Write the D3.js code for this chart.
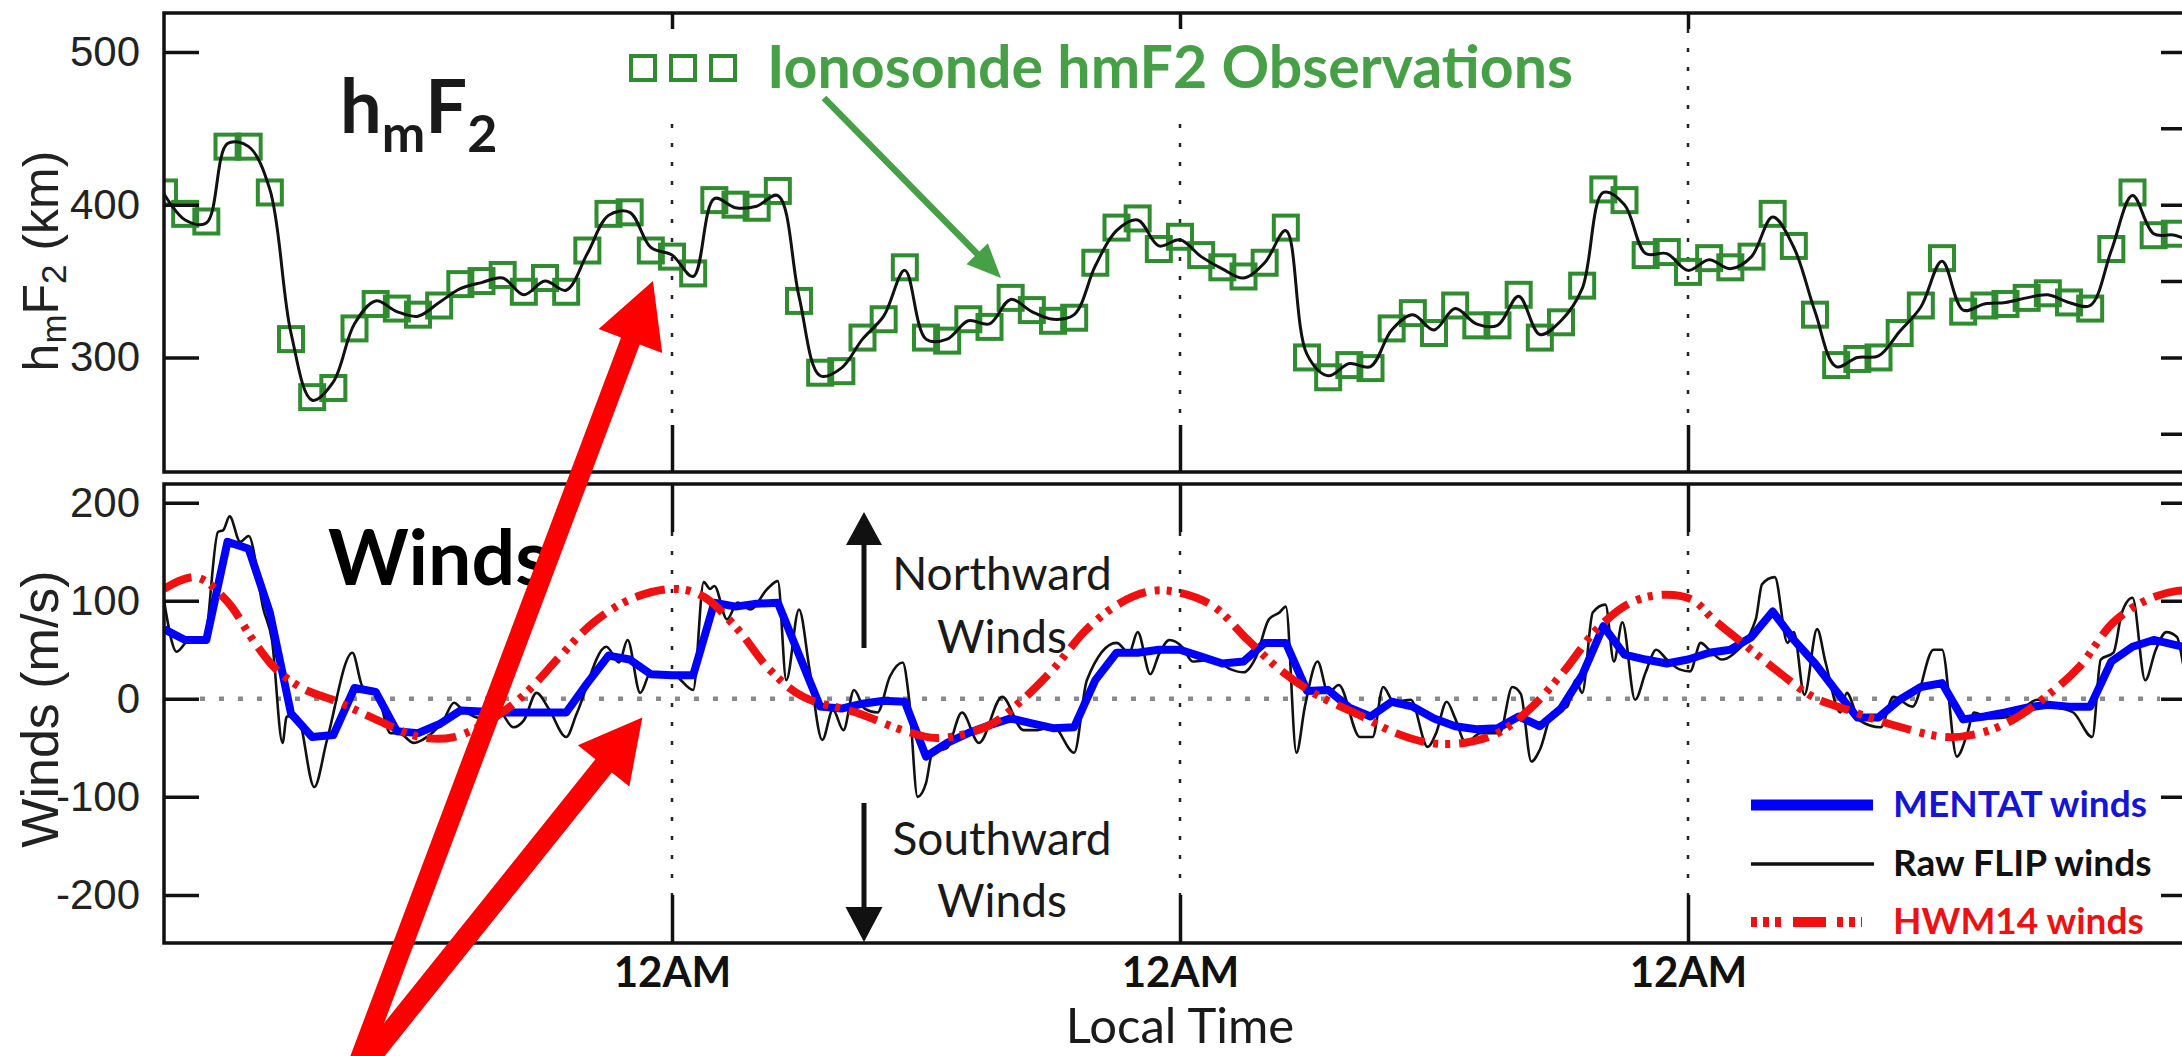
<!DOCTYPE html>
<html>
<head>
  <meta charset="utf-8">
  <title>hmF2 and winds</title>
  <script src="https://cdnjs.cloudflare.com/ajax/libs/d3/7.8.5/d3.min.js"></script>
<style>
body { margin: 0; background: #fff; }
svg { display: block; }
.axis path { display: none; }
.axis line { stroke: #111; stroke-width: 3.5; }
.axis text { font-family: "Liberation Sans", Arial, sans-serif; font-size: 42px; fill: #222; }
.axis--time text { font-family: Lato, "Open Sans", sans-serif; font-weight: 700; font-size: 42px; fill: #111; }
.frame { fill: none; stroke: #111; stroke-width: 3.5; }
.midnight { stroke: #222; stroke-width: 2.5; stroke-dasharray: 4 15; }
.zero { stroke: #8a8a8a; stroke-width: 4.5; stroke-dasharray: 5 14; }
.ytitle { font-family: "Liberation Sans", Arial, sans-serif; fill: #222; }
.note { font-family: Lato, "Open Sans", sans-serif; fill: #1a1a1a; }
</style>
</head>
<body>
<div id="chart"></div>
<script>
// hourly ionosonde hmF2 (km), hour 0 .. 96
const ionosondeHmf2 = [408,394,389,438,438,408,312,274,280,319,
  335,332,328,334,348,350,354,343,352,343,
  370,394,395,370,366,355,403,400,398,409,
  337,290,291,313,325,359,313,311,325,320,
  339,331,324,326,362,385,391,371,379,367,
  359,353,362,385,300,287,295,293,319,329,
  316,334,321,321,341,313,323,347,410,403,
  367,369,356,365,359,366,394,373,328,295,
  299,300,316,334,365,330,334,335,339,342,
  336,332,371,408,380,381,375];

// FLIP model hmF2 (km), hourly
const flipHmf2 = [407,390,388,440,438,410,316,272,284,322,
  337,330,327,336,345,349,352,341,350,344,
  368,393,395,372,367,353,404,398,399,406,
  340,288,293,312,327,357,312,312,324,322,
  338,330,325,328,360,383,390,373,377,366,
  358,352,362,383,302,288,296,294,318,328,
  318,332,322,321,340,315,324,345,408,400,
  368,368,357,364,358,366,392,372,330,294,
  300,301,317,333,363,331,335,336,339,341,
  336,334,370,406,381,380,374];

// MENTAT winds (m/s), hourly
const mentatWinds = [71,60,60,160,153,88,-15,-39,-37,11,
  7,-33,-35,-26,-12,-13,-14,-14,-14,-14,
  16,44,40,25,24,24,98,94,97,98,
  45,-8,-10,-5,-2,-3,-59,-45,-35,-27,
  -20,-25,-30,-29,19,47,47,50,50,43,
  36,38,57,57,8,9,-9,-18,-3,-8,
  -20,-28,-31,-30,-18,-28,-10,24,74,45,
  40,36,40,47,50,63,89,60,36,8,
  -19,-19,-1,12,16,-21,-18,-14,-9,-6,
  -8,-8,38,53,60,55,50];

// raw FLIP winds, [hour, m/s]
const flipWinds = [[0,100],[0.6,48],[1.2,60],[1.9,60],[2.55,170],[2.8,172],[3.1,186],[3.6,160],[4,166],
  [4.7,91],[5.1,60],[5.6,-45],[5.8,-18],[6.3,-18],[7.1,-90],[7.7,-42],[8.9,47],[9.4,12],[10,9],
  [10.7,-35],[11.1,-35],[11.8,-45],[12.2,-42],[13.2,-22],[13.7,-4],[14.1,-11],[15,-20],[15.8,-12],
  [16.5,-29],[17,-22],[17.6,6],[18.2,-11],[19,-39],[19.5,-15],[20.9,53],[21.5,37],[21.9,60],
  [22.5,6],[23,27],[23.6,27],[24.2,23],[25,9],[25.5,119],[25.8,112],[26,115],[26.6,81],[27.1,98],
  [27.7,91],[28.5,112],[29,120],[29.4,19],[30,91],[30.5,30],[31.1,-42],[31.6,-11],[32.1,-32],
  [32.6,9],[33.1,-10],[33.7,-14],[34.3,23],[34.9,37],[35.2,0],[35.6,-100],[36,-86],[36.3,-55],
  [37,-50],[37.7,-14],[38.5,-45],[39.6,2],[40.6,-32],[41.2,-32],[42,-28],[43,-55],[43.6,19],
  [45,57],[45.6,47],[46,68],[46.6,25],[47,45],[47.5,60],[48.1,53],[48.6,38],[49.6,40],[50.4,30],
  [51,27],[51.6,43],[52.2,81],[52.7,88],[53,94],[53.5,-55],[53.9,-8],[54.5,38],[55,6],[55.5,14],
  [56.5,-39],[57.1,-39],[57.6,12],[58.1,-3],[58.9,-1],[59.7,-49],[60.1,-35],[60.6,-3],[61,-20],
  [61.5,-45],[62.2,-35],[63.1,-35],[63.7,12],[64.1,5],[64.6,-64],[65,-52],[65.6,-14],[66.3,-8],
  [66.7,19],[67,6],[67.5,88],[68.1,96],[68.5,38],[68.9,78],[69.5,-1],[70,27],[70.5,50],[71,40],
  [71.6,30],[72.1,28],[72.6,57],[73,50],[73.6,40],[74.1,45],[75.2,81],[75.5,117],[76.1,124],
  [76.7,57],[77,68],[77.5,4],[78.1,71],[78.5,37],[79.2,-14],[79.5,6],[80.1,-22],[81.1,-29],
  [81.7,2],[82.6,-8],[83.6,50],[84,50],[84.7,-59],[85.2,-35],[85.5,-14],[86.3,-20],[87.3,-18],
  [88.5,-1],[89.3,-8],[90.2,-14],[91.1,-39],[91.5,40],[92.1,47],[92.5,88],[93,103],[93.6,19],
  [94.1,50],[94.6,68],[95.1,63],[95.6,20],[96,40]];

// HWM14 winds, [hour, m/s]
const hwm14Winds = [[0,112],[1.5,124],[3,99],[4.2,60],[5.3,30],[6.6,10],[8.2,-3],[9.9,-20],
  [12.1,-39],[13.7,-39],[15.7,-18],[17.1,6],[18.7,43],[20.3,78],[22.2,103],[24.2,112],[25.5,104],
  [27.1,71],[28.6,30],[30.2,2],[32.7,-14],[34.9,-32],[36.5,-40],[38.9,-28],[40.4,-4],[42,30],
  [43.6,71],[45.2,98],[46.7,110],[48,108],[49.6,94],[51.2,60],[52.7,30],[54.3,6],[56.6,-18],
  [58.2,-35],[59.8,-45],[61.4,-45],[63,-35],[64.5,-11],[66.1,27],[67.7,71],[69.3,98],[70.8,106],
  [72.2,101],[73.2,81],[74.8,53],[76.3,27],[77.9,2],[79.5,-11],[81.9,-28],[84.2,-39],[85.8,-35],
  [87.3,-22],[88.9,2],[90.5,33],[92.1,78],[93.7,101],[95.1,110],[96,110]];

const midnights = [24, 48, 72];
const midnightLabel = '12AM';
const hmf2LabelTicks = [300, 400, 500];
const hmf2MinorTicks = [250, 300, 350, 400, 450, 500];
const windTicks = [-200, -100, 0, 100, 200];

const W = 2182, H = 1056;
const L = 164, R = 2196;
const top1 = 13, bot1 = 472, top2 = 484, bot2 = 943;

const svg = d3.select('#chart').append('svg')
  .attr('width', W).attr('height', H);
svg.append('rect').attr('width', W).attr('height', H).attr('fill', '#fff');

const x = d3.scaleLinear().domain([0, 96]).range([L, R]);
const yTop = d3.scaleLinear().domain([225, 525.5]).range([bot1, top1]);
const yWind = d3.scaleLinear().domain([-249, 219]).range([bot2, top2]);

const defs = svg.append('defs');
defs.append('clipPath').attr('id', 'clipTop').append('rect')
  .attr('x', L).attr('y', top1).attr('width', R - L).attr('height', bot1 - top1);
defs.append('clipPath').attr('id', 'clipBot').append('rect')
  .attr('x', L).attr('y', top2).attr('width', R - L).attr('height', bot2 - top2);

// midnight dotted lines
svg.selectAll('.midnight.top').data(midnights).enter().append('line')
  .attr('class', 'midnight top')
  .attr('x1', d => x(d)).attr('x2', d => x(d))
  .attr('y1', top1 + 16).attr('y2', bot1 - 47);
svg.selectAll('.midnight.bot').data(midnights).enter().append('line')
  .attr('class', 'midnight bot')
  .attr('x1', d => x(d)).attr('x2', d => x(d))
  .attr('y1', top2 + 48).attr('y2', bot2 - 48);

svg.append('line').attr('class', 'zero')
  .attr('x1', L + 36).attr('x2', R - 36)
  .attr('y1', yWind(0)).attr('y2', yWind(0));

// top panel data
const gTop = svg.append('g').attr('clip-path', 'url(#clipTop)');
gTop.selectAll('.obs').data(ionosondeHmf2).enter().append('rect')
  .attr('class', 'obs')
  .attr('x', (d, i) => x(i) - 12).attr('y', d => yTop(d) - 12)
  .attr('width', 24).attr('height', 24)
  .attr('fill', 'none').attr('stroke', '#2f8d2f').attr('stroke-width', 4);

gTop.append('path').datum(flipHmf2)
  .attr('fill', 'none').attr('stroke', '#111').attr('stroke-width', 3)
  .attr('d', d3.line().x((d, i) => x(i)).y(d => yTop(d)).curve(d3.curveCatmullRom));

// bottom panel data
const gBot = svg.append('g').attr('clip-path', 'url(#clipBot)');
gBot.append('path').datum(flipWinds)
  .attr('fill', 'none').attr('stroke', '#111').attr('stroke-width', 2.6)
  .attr('d', d3.line().x(d => x(d[0])).y(d => yWind(d[1])).curve(d3.curveMonotoneX));
gBot.append('path').datum(mentatWinds)
  .attr('fill', 'none').attr('stroke', '#0000ff').attr('stroke-width', 8)
  .attr('stroke-linejoin', 'round')
  .attr('d', d3.line().x((d, i) => x(i)).y(d => yWind(d)));
gBot.append('path').datum(hwm14Winds)
  .attr('fill', 'none').attr('stroke', '#f01010').attr('stroke-width', 8)
  .attr('stroke-dasharray', '30 9 5 7 5 9')
  .attr('d', d3.line().x(d => x(d[0])).y(d => yWind(d[1])).curve(d3.curveCatmullRom));

// legend backgrounds
svg.append('rect').attr('x', 625).attr('y', 16).attr('width', 960).attr('height', 94).attr('fill', '#fff');
svg.append('rect').attr('x', 1723).attr('y', 780).attr('width', 435).attr('height', 160).attr('fill', '#fff');

// axes
svg.append('g').attr('class', 'axis').attr('transform', `translate(${L},0)`)
  .call(d3.axisLeft(yTop).tickValues(hmf2LabelTicks).tickSizeInner(-35).tickSizeOuter(0)
    .tickPadding(24).tickFormat(d => String(d)));
svg.append('g').attr('class', 'axis').attr('transform', `translate(${R},0)`)
  .call(d3.axisRight(yTop).tickValues(hmf2MinorTicks).tickSizeInner(-35).tickSizeOuter(0).tickFormat(''));
svg.append('g').attr('class', 'axis').attr('transform', `translate(0,${top1})`)
  .call(d3.axisTop(x).tickValues(midnights).tickSizeInner(-16).tickSizeOuter(0).tickFormat(''));
svg.append('g').attr('class', 'axis').attr('transform', `translate(0,${bot1})`)
  .call(d3.axisBottom(x).tickValues(midnights).tickSizeInner(-47).tickSizeOuter(0).tickFormat(''));

svg.append('g').attr('class', 'axis').attr('transform', `translate(${L},0)`)
  .call(d3.axisLeft(yWind).tickValues(windTicks).tickSizeInner(-35).tickSizeOuter(0)
    .tickPadding(24).tickFormat(d => String(d)));
svg.append('g').attr('class', 'axis').attr('transform', `translate(${R},0)`)
  .call(d3.axisRight(yWind).tickValues(windTicks).tickSizeInner(-35).tickSizeOuter(0).tickFormat(''));
svg.append('g').attr('class', 'axis').attr('transform', `translate(0,${top2})`)
  .call(d3.axisTop(x).tickValues(midnights).tickSizeInner(-48).tickSizeOuter(0).tickFormat(''));
svg.append('g').attr('class', 'axis axis--time').attr('transform', `translate(0,${bot2})`)
  .call(d3.axisBottom(x).tickValues(midnights).tickSizeInner(-48).tickSizeOuter(0)
    .tickPadding(14).tickFormat(() => midnightLabel));

svg.append('rect').attr('class', 'frame').attr('x', L).attr('y', top1).attr('width', R - L).attr('height', bot1 - top1);
svg.append('rect').attr('class', 'frame').attr('x', L).attr('y', top2).attr('width', R - L).attr('height', bot2 - top2);

// axis titles
const t1 = svg.append('text').attr('class', 'ytitle').attr('font-size', 50)
  .attr('text-anchor', 'middle').attr('transform', 'translate(58,261) rotate(-90)');
t1.append('tspan').text('h');
t1.append('tspan').attr('font-size', 35).attr('dy', 8).text('m');
t1.append('tspan').attr('dy', -8).text('F');
t1.append('tspan').attr('font-size', 35).attr('dy', 8).text('2');
t1.append('tspan').attr('dy', -8).text(' (km)');

svg.append('text').attr('class', 'ytitle').attr('font-size', 52)
  .attr('text-anchor', 'middle').attr('transform', 'translate(58,709) rotate(-90)')
  .text('Winds (m/s)');

svg.append('text').attr('class', 'note').attr('x', 1180).attr('y', 1043)
  .attr('text-anchor', 'middle').attr('font-size', 49).text('Local Time');

// panel labels
const big = svg.append('text').attr('class', 'note').attr('x', 340).attr('y', 133)
  .attr('font-size', 74).attr('font-weight', 700).attr('fill', '#000');
big.append('tspan').text('h');
big.append('tspan').attr('font-size', 52).attr('dy', 19).text('m');
big.append('tspan').attr('dy', -19).text('F');
big.append('tspan').attr('font-size', 52).attr('dy', 19).text('2');

svg.append('text').attr('class', 'note').attr('x', 328).attr('y', 585)
  .attr('font-size', 77).attr('font-weight', 700).style('fill', '#000').text('Winds');

// ionosonde legend
svg.selectAll('.legsq').data([643, 683, 723]).enter().append('rect')
  .attr('class', 'legsq')
  .attr('x', d => d - 12).attr('y', 56).attr('width', 24).attr('height', 24)
  .attr('fill', 'none').attr('stroke', '#2f8d2f').attr('stroke-width', 4);
svg.append('text').attr('class', 'note').attr('x', 767).attr('y', 88)
  .attr('font-size', 60).attr('font-weight', 700).style('fill', '#46a046')
  .attr('textLength', 806).attr('lengthAdjust', 'spacingAndGlyphs')
  .text('Ionosonde hmF2 Observations');

// wind direction notes
[['Northward', 590], ['Winds', 653], ['Southward', 855], ['Winds', 917]].forEach(n => {
  svg.append('text').attr('class', 'note').attr('x', 1002).attr('y', n[1])
    .attr('text-anchor', 'middle').attr('font-size', 46).text(n[0]);
});

// wind legend
const leg = [
  {label: 'MENTAT winds', color: '#0000ff', text: '#1515d8', w: 11, dash: null, y: 805, x2: 1873},
  {label: 'Raw FLIP winds', color: '#111', text: '#111', w: 3.5, dash: null, y: 864, x2: 1874},
  {label: 'HWM14 winds', color: '#f01010', text: '#ee1111', w: 10, dash: '6 6 6 6 6 12 33 11 6 6 6 6 6', y: 922, x2: 1862}
];
leg.forEach(d => {
  svg.append('line').attr('x1', 1751).attr('x2', d.x2).attr('y1', d.y).attr('y2', d.y)
    .attr('stroke', d.color).attr('stroke-width', d.w)
    .attr('stroke-dasharray', d.dash);
  svg.append('text').attr('class', 'note').attr('x', 1893).attr('y', d.y + 12)
    .attr('font-size', 37).attr('font-weight', 700).style('fill', d.text).text(d.label);
});

// arrows
function arrow(x0, y0, x1, y1, w, hl, hw) {
  const dx = x1 - x0, dy = y1 - y0, len = Math.hypot(dx, dy);
  const ux = dx / len, uy = dy / len, px = -uy, py = ux;
  const bx = x1 - ux * hl, by = y1 - uy * hl;
  const pts = [
    [x0 + px * w / 2, y0 + py * w / 2], [bx + px * w / 2, by + py * w / 2],
    [bx + px * hw / 2, by + py * hw / 2], [x1, y1],
    [bx - px * hw / 2, by - py * hw / 2], [bx - px * w / 2, by - py * w / 2],
    [x0 - px * w / 2, y0 - py * w / 2]];
  return 'M' + pts.map(p => p.join(',')).join('L') + 'Z';
}

svg.append('path').attr('fill', '#111').attr('d', arrow(864, 648, 864, 512, 5, 33, 36));
svg.append('path').attr('fill', '#111').attr('d', arrow(864, 803, 864, 942, 5, 35, 37));
svg.append('path').attr('fill', '#46a046').attr('d', arrow(824, 98, 1001, 278, 6.5, 34, 30));
svg.append('path').attr('fill', '#ff0000').attr('d', arrow(352, 1080, x(23.1), yTop(350), 20, 64, 68));
svg.append('path').attr('fill', '#ff0000').attr('d', arrow(352, 1080, x(22.6), yWind(-19), 21, 62, 66));
</script>
</body>
</html>
